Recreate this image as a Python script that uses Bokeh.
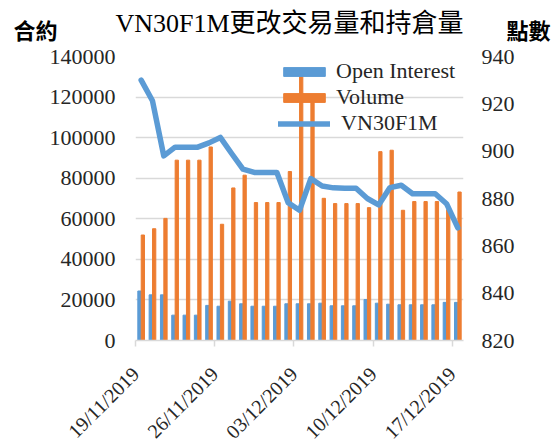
from bokeh.plotting import figure
from bokeh.models import (Range1d, LinearAxis, FixedTicker, NumeralTickFormatter,
                          Legend, LegendItem, ColumnDataSource)
from bokeh.core.properties import value
from bokeh.embed import file_html
from bokeh.resources import INLINE
import math

# ---- data ----
dates = ["19/11/2019", "20/11/2019", "21/11/2019", "22/11/2019", "23/11/2019",
         "24/11/2019", "25/11/2019", "26/11/2019", "27/11/2019", "28/11/2019",
         "29/11/2019", "30/11/2019", "01/12/2019", "02/12/2019", "03/12/2019",
         "04/12/2019", "05/12/2019", "06/12/2019", "07/12/2019", "08/12/2019",
         "09/12/2019", "10/12/2019", "11/12/2019", "12/12/2019", "13/12/2019",
         "14/12/2019", "15/12/2019", "16/12/2019", "17/12/2019"]
open_interest = [24400, 22500, 22500, 12500, 12500, 12500, 17300, 16900, 19400,
                 18100, 16900, 16900, 16900, 18100, 18100, 18100, 18400, 17100,
                 17100, 17100, 20200, 18400, 17900, 17600, 17600, 17600, 17600,
                 18800, 18800]
volume = [52000, 55100, 60200, 88900, 88900, 88900, 95400, 57300, 75200, 81500,
          68000, 68000, 68000, 83300, 131000, 120000, 70100, 67500, 67500, 67500,
          65500, 93100, 93800, 64200, 68500, 68500, 68500, 64500, 73200]
vn30f1m = [930.0, 921.3, 898.0, 901.7, 901.7, 901.7, 903.5, 905.8, 899.0, 892.4,
           891.0, 891.0, 891.0, 878.2, 875.0, 888.4, 885.3, 884.5, 884.3, 884.3,
           880.0, 877.3, 884.6, 885.6, 882.0, 882.0, 882.0, 877.8, 867.6]
tick_labels = ["19/11/2019", "26/11/2019", "03/12/2019", "10/12/2019", "17/12/2019"]
left_ticks = [0, 20000, 40000, 60000, 80000, 100000, 120000, 140000]
right_ticks = [820, 840, 860, 880, 900, 920, 940]
title_text = "VN30F1M更改交易量和持倉量"
left_title = "合約"
right_title = "點數"

BLUE = "#5B9BD5"
ORANGE = "#ED7D31"
GRID = "#D9D9D9"
TXT = "#262626"
SERIF = "'Liberation Serif', 'Noto Sans CJK TC'"
CJK = "Noto Sans CJK TC"

HEAD_H = 44

# ---- header (chart title and the two unit captions) ----
head = figure(width=553, height=HEAD_H, x_range=Range1d(0, 553), y_range=Range1d(HEAD_H, 0),
              x_axis_type=None, y_axis_type=None, output_backend="svg",
              toolbar_location=None, min_border=0)
head.outline_line_color = None
head.grid.visible = False
head.text(x=[289], y=[23], text=[title_text], text_align="center",
          text_baseline="alphabetic", text_font=value(SERIF),
          text_font_size="26px", text_color="black")
head.text(x=[35, 528], y=[28.5, 28.5], text=[left_title, right_title],
          text_align="center", text_baseline="middle", text_font=value(CJK),
          text_font_style="bold", text_font_size="22px", text_color="black")

# ---- main chart ----
n = len(dates)
centers = [i + 0.5 for i in range(n)]
src = ColumnDataSource(dict(
    date=dates,
    xc=centers,
    xb=[c - 0.15 for c in centers],
    xo=[c + 0.15 for c in centers],
    oi=open_interest,
    vol=volume,
    idx=vn30f1m,
))

p = figure(frame_width=328, frame_height=284,
           x_range=Range1d(0, n), y_range=Range1d(left_ticks[0], left_ticks[-1]),
           output_backend="svg", toolbar_location=None,
           min_border_left=135, min_border_right=90,
           min_border_top=56 - HEAD_H, min_border_bottom=104)
p.outline_line_color = None
p.background_fill_color = "white"
p.border_fill_color = "white"

p.extra_y_ranges = {"idx": Range1d(right_ticks[0], right_ticks[-1])}

p.xgrid.visible = False
p.ygrid.ticker = FixedTicker(ticks=left_ticks)
p.ygrid.grid_line_color = GRID
p.ygrid.grid_line_width = 1.4

r_oi = p.vbar(x="xb", top="oi", width=0.29, source=src, color=BLUE)
r_vol = p.vbar(x="xo", top="vol", width=0.29, source=src, color=ORANGE)
r_line = p.line(x="xc", y="idx", source=src, y_range_name="idx",
                line_color=BLUE, line_width=5.5, line_join="round", line_cap="round")

# x axis
xa = p.xaxis[0]
tick_pos = [dates.index(t) for t in tick_labels]
xa.ticker = FixedTicker(ticks=tick_pos)
xa.major_label_overrides = {tp: lbl for tp, lbl in zip(tick_pos, tick_labels)}
xa.major_label_orientation = math.pi / 4
xa.minor_tick_line_color = None
xa.major_tick_in = 0
xa.major_tick_out = 6
xa.major_tick_line_color = GRID
xa.major_tick_line_width = 1.5
xa.axis_line_color = GRID
xa.axis_line_width = 1.5
xa.major_label_text_font = SERIF
xa.major_label_text_font_size = "20px"
xa.major_label_text_color = TXT
xa.major_label_standoff = 24

# left axis
ya = p.yaxis[0]
ya.ticker = FixedTicker(ticks=left_ticks)
ya.formatter = NumeralTickFormatter(format="0")
ya.axis_line_color = None
ya.major_tick_line_color = None
ya.minor_tick_line_color = None
ya.major_tick_out = 0
ya.major_label_standoff = 20
ya.major_label_text_font = SERIF
ya.major_label_text_font_size = "22px"
ya.major_label_text_color = TXT

# right axis
ra = LinearAxis(y_range_name="idx", ticker=FixedTicker(ticks=right_ticks))
ra.axis_line_color = None
ra.major_tick_line_color = None
ra.minor_tick_line_color = None
ra.major_tick_out = 0
ra.major_label_standoff = 18
ra.major_label_text_font = SERIF
ra.major_label_text_font_size = "22px"
ra.major_label_text_color = TXT
p.add_layout(ra, "right")

legend = Legend(items=[LegendItem(label="Open Interest", renderers=[r_oi]),
                       LegendItem(label="Volume", renderers=[r_vol]),
                       LegendItem(label=" VN30F1M", renderers=[r_line])],
                location=(143, 204), orientation="vertical",
                background_fill_alpha=0, border_line_alpha=0,
                padding=0, margin=0, spacing=0,
                glyph_width=52, glyph_height=11, label_height=26,
                label_standoff=6,
                label_text_font=SERIF, label_text_font_size="22px",
                label_text_color=TXT)
p.add_layout(legend, "center")

# two independent roots: header above the chart, no frame alignment between them
open("out.html", "w").write(file_html([head, p], INLINE))
